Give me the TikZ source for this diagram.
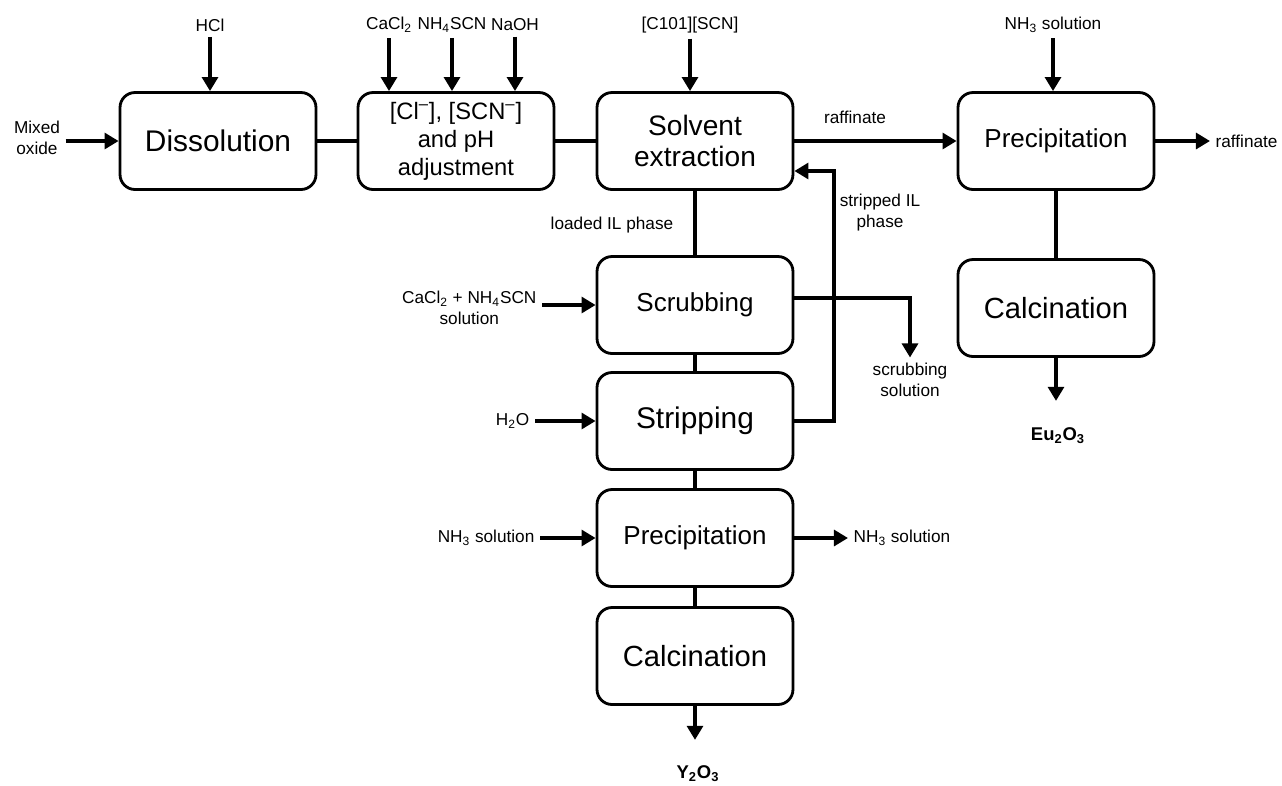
\documentclass[tikz,border=0pt]{standalone}
\usepackage{fontspec}
\setmainfont{Liberation Sans}
\usetikzlibrary{arrows.meta}

\begin{document}
\begin{tikzpicture}[x=0.02cm,y=-0.02cm,
   box/.style={draw,line width=1.6pt,rounded corners=0.3cm,minimum width=3.92cm,
     minimum height=1.94cm,align=center,font=\fontsize{17}{20}\selectfont},
   lbl/.style={align=center,font=\fontsize{9.8}{12}\selectfont,inner sep=3pt},
   flow/.style={line width=2.3pt,-{Triangle[length=8pt,width=9pt]}},
   link/.style={line width=2.3pt}]
   \useasboundingbox (0,0) rectangle (1282,785);
   % process boxes
   \node[box] (dissol) at (218,141) {Dissolution};
   \node[box,font=\fontsize{13.5}{16}\selectfont] (adjust) at (456,141)
     {[Cl\textsuperscript{–}], [SCN\textsuperscript{–}]\\and pH\\adjustment};
   \node[box,font=\fontsize{16}{17.5}\selectfont] (extract) at (695,141) {Solvent\\extraction};
   \node[box,font=\fontsize{14.8}{18}\selectfont] (precipEu) at (1056,141) {Precipitation};
   \node[box,font=\fontsize{16.6}{20}\selectfont] (calcEu) at (1056,308) {Calcination};
   \node[box,font=\fontsize{14.8}{18}\selectfont] (scrub) at (695,305) {Scrubbing};
   \node[box] (strip) at (695,421) {Stripping};
   \node[box,font=\fontsize{14.8}{18}\selectfont] (precipY) at (695,538) {Precipitation};
   \node[box,font=\fontsize{16.6}{20}\selectfont] (calcY) at (695,656) {Calcination};
   % feeds and products
   \node[lbl] (hcl) at (210,25) {HCl};
   \node[lbl] (cacl) at (389,25) {CaCl\textsubscript{2}};
   \node[lbl] (nhscn) at (452,25) {NH\textsubscript{4}SCN};
   \node[lbl] (naoh) at (515,25) {NaOH};
   \node[lbl] (ionic) at (690,25) {[C101][SCN]};
   \node[lbl] (nhtop) at (1053,25) {NH\textsubscript{3} solution};
   \node[lbl] (mixed) at (37,138) {Mixed\\oxide};
   \node[lbl] (raffTop) at (855,117) {raffinate};
   \node[lbl,anchor=west] (raffR) at (1210,141) {raffinate};
   \node[lbl] (loaded) at (612,225) {loaded IL phase};
   \node[lbl] (stripped) at (880,213) {stripped IL\\phase};
   \node[lbl,anchor=east] (scrubIn) at (542,308) {CaCl\textsubscript{2} + NH\textsubscript{4}SCN\\solution};
   \node[lbl] (scrubOut) at (910,380) {scrubbing\\solution};
   \node[lbl,anchor=east] (water) at (535,421) {H\textsubscript{2}O};
   \node[lbl,anchor=east] (nhIn) at (540,538) {NH\textsubscript{3} solution};
   \node[lbl,anchor=west] (nhOut) at (848,538) {NH\textsubscript{3} solution};
   \node[lbl,font=\fontsize{10.5}{12.5}\selectfont\bfseries] (eu2o3) at (1058,436) {Eu\textsubscript{2}O\textsubscript{3}};
   \node[lbl,font=\fontsize{10.5}{12.5}\selectfont\bfseries] (y2o3) at (698,774) {Y\textsubscript{2}O\textsubscript{3}};
   % connectors
   \draw[flow] (hcl.south) -- (hcl.south |- dissol.north);
   \draw[flow] (cacl.south) -- (cacl.south |- adjust.north);
   \draw[flow] (nhscn.south) -- (nhscn.south |- adjust.north);
   \draw[flow] (naoh.south) -- (naoh.south |- adjust.north);
   \draw[flow] (ionic.south) -- (ionic.south |- extract.north);
   \draw[flow] (nhtop.south) -- (nhtop.south |- precipEu.north);
   \draw[flow] (mixed.east |- dissol.west) -- (dissol.west);
   \draw[link] (dissol) -- (adjust);
   \draw[link] (adjust) -- (extract);
   \draw[flow] (extract) -- (precipEu);
   \draw[flow] (precipEu.east) -- (raffR.west |- precipEu.east);
   \draw[link] (precipEu) -- (calcEu);
   \draw[flow] (calcEu.south) -- ++(0,43);
   \draw[link] (extract) -- (scrub);
   \draw[link] (scrub) -- (strip);
   \draw[link] (strip) -- (precipY);
   \draw[link] (precipY) -- (calcY);
   \draw[flow] (calcY.south) -- ++(0,34);
   \draw[flow] (scrubIn.east |- scrub) -- (scrub.west);
   \draw[flow] (water.east) -- (water.east -| strip.west);
   \draw[flow] (nhIn.east) -- (nhIn.east -| precipY.west);
   \draw[flow] (precipY.east) -- (nhOut.west |- precipY.east);
   \draw[flow] ([yshift=0.14cm]scrub.east) -| (scrubOut.north);
   \draw[flow] (strip.east) -- ++(40,0) |- ([yshift=-0.6cm]extract.east);
\end{tikzpicture}
\end{document}
